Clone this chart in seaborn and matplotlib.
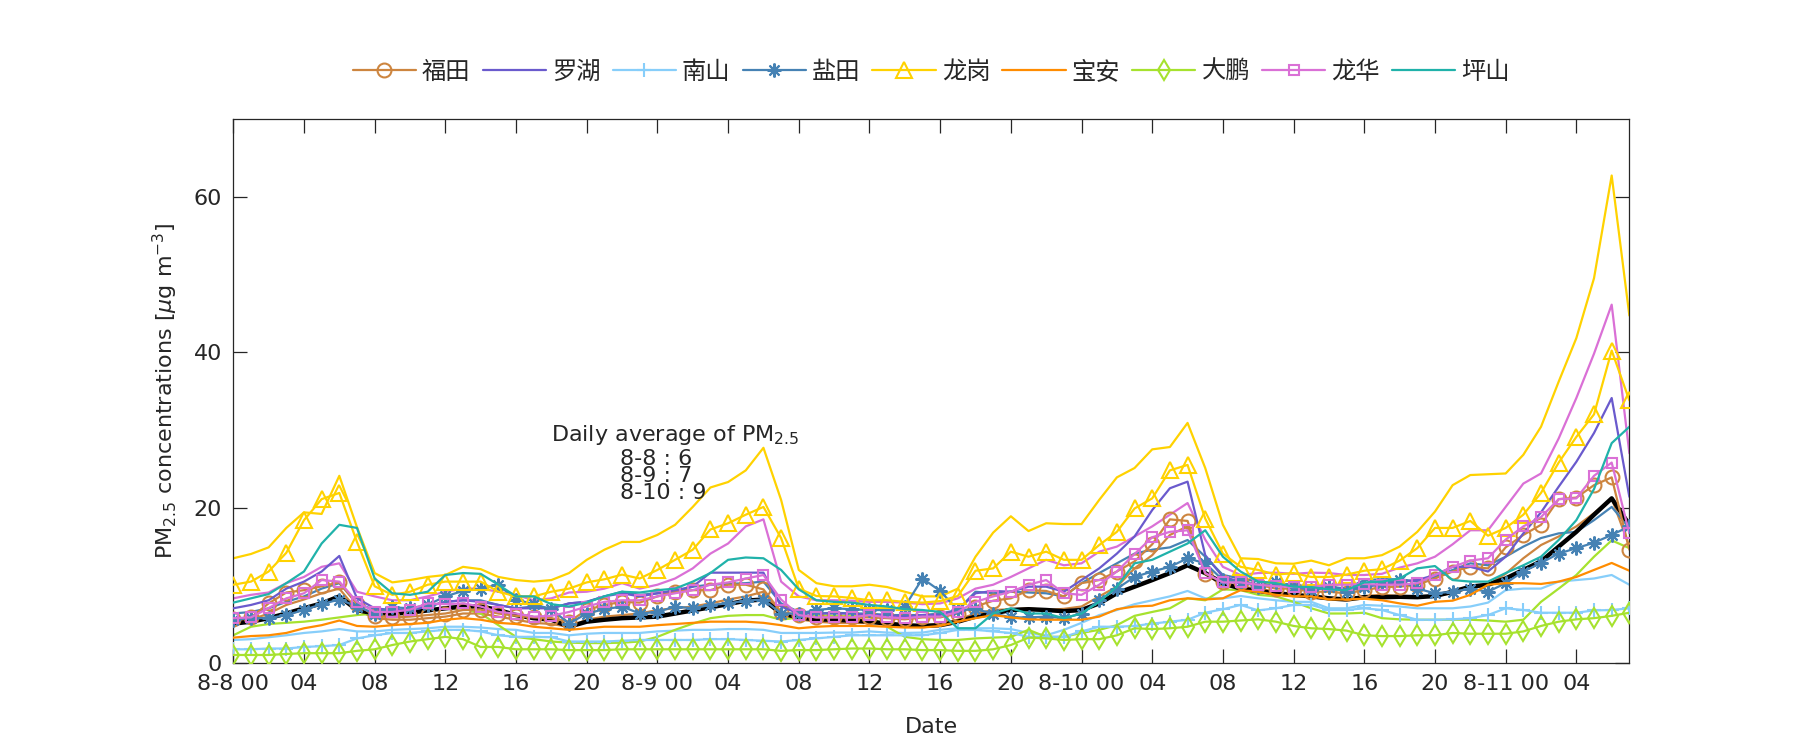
"""PM2.5 hourly concentrations, Shenzhen districts, 8-8 to 8-11."""

import matplotlib

matplotlib.use("Agg")
import matplotlib.pyplot as plt
import numpy as np
import seaborn as sns

# hourly index 8-8 00 ... 8-11 07
hours = np.arange(80)
tick_hours = np.arange(0, 80, 4)
tick_labels = ["8-8 00", "04", "08", "12", "16", "20",
               "8-9 00", "04", "08", "12", "16", "20",
               "8-10 00", "04", "08", "12", "16", "20",
               "8-11 00", "04"]

station_names = ["福田", "罗湖", "南山", "盐田", "龙岗", "宝安", "大鹏", "龙华", "坪山"]

futian = [5.65, 5.9, 7.7, 9.1, 9.4, 9.9, 10.4, 7.6, 6.1, 5.9, 6.0, 6.2, 6.4, 6.85, 6.9, 6.4, 6.1,
          5.9, 5.8, 5.35, 6.85, 7.5, 7.9, 7.8, 8.6, 9.2, 9.4, 9.4, 10.1, 10.1, 9.5, 6.6,
          6.2, 5.9, 5.9, 5.9, 5.9, 5.8, 5.65, 5.9, 5.9, 6.4, 7.3, 8.05, 8.35, 9.4, 9.3, 8.6,
          10.3, 10.7, 11.8, 13.1, 15.3, 18.5, 18.3, 11.5, 10.4, 10.4, 10.1, 9.6, 9.6, 9.2, 9.2, 9.0,
          9.4, 9.8, 9.85, 10.1, 10.9, 11.8, 12.4, 12.2, 14.9, 16.5, 17.8, 21.1, 21.3, 22.9, 23.9, 14.6]
luohu = [7.07, 7.5, 8.1, 9.6, 10.5, 11.8, 13.8, 8.35, 7.07, 6.85, 6.8, 7.3, 7.9, 8.1, 7.9, 7.5, 7.07,
         7.07, 7.07, 7.7, 7.9, 8.6, 9.0, 8.6, 9.0, 9.4, 9.85, 11.65, 11.65, 11.65, 11.65, 7.3,
         6.4, 6.4, 6.4, 6.4, 6.2, 6.2, 6.0, 6.2, 6.2, 6.85, 9.0, 9.3, 9.2, 9.85, 9.85, 9.2,
         10.7, 12.2, 14.1, 16.3, 19.7, 22.5, 23.35, 13.9, 11.1, 10.5, 10.1, 10.1, 9.85, 9.6, 9.6, 9.5,
         9.85, 10.1, 10.5, 10.7, 11.35, 12.4, 12.4, 11.8, 13.7, 16.7, 19.4, 22.7, 25.9, 29.6, 34.1, 21.4]
nanshan = [1.8, 1.8, 1.9, 1.9, 2.1, 2.2, 2.35, 3.2, 3.6, 3.9, 3.9, 4.1, 4.3, 4.3, 4.1, 3.6, 3.4,
           3.4, 3.35, 2.8, 2.8, 2.8, 2.9, 3.0, 3.0, 3.0, 3.0, 3.1, 3.1, 3.0, 2.9, 2.8,
           3.0, 3.2, 3.4, 3.6, 3.6, 3.6, 3.6, 3.6, 3.9, 4.3, 4.3, 4.1, 3.9, 3.4, 3.4, 3.4,
           4.1, 4.7, 4.7, 4.8, 5.1, 5.35, 5.6, 6.5, 6.95, 7.5, 6.8, 7.07, 7.5, 7.5, 6.85, 6.85,
           7.07, 6.85, 6.2, 5.6, 5.6, 5.65, 5.8, 6.2, 7.07, 6.85, 6.5, 6.5, 6.5, 6.8, 6.85, 7.07]
yantian = [5.6, 5.8, 5.8, 6.2, 6.85, 7.6, 8.2, 7.3, 6.4, 7.2, 7.07, 7.5, 8.6, 9.3, 9.6, 10.1, 8.2,
           7.6, 6.95, 5.1, 6.4, 6.95, 7.3, 6.4, 6.6, 7.3, 7.07, 7.5, 7.7, 8.05, 8.2, 6.4,
           6.4, 6.85, 7.07, 6.95, 6.85, 6.85, 7.3, 10.9, 9.3, 6.85, 6.95, 6.4, 5.9, 5.9, 6.0, 5.8,
           6.4, 8.1, 9.6, 11.1, 11.8, 12.4, 13.5, 12.85, 10.7, 10.5, 9.85, 10.4, 9.85, 9.4, 9.8, 9.2,
           9.85, 10.3, 10.7, 9.6, 9.0, 9.2, 9.6, 9.2, 10.3, 11.8, 12.9, 14.1, 14.8, 15.5, 16.5, 17.6]
longgang = [10.1, 10.5, 11.8, 14.2, 18.4, 21.1, 21.9, 15.6, 9.9, 8.8, 9.2, 10.1, 10.5, 10.5, 10.5, 9.2, 8.6,
            8.6, 9.2, 9.6, 10.4, 10.8, 11.4, 10.9, 12.0, 13.3, 14.6, 17.2, 18.0, 19.1, 20.1, 16.1,
            9.6, 8.65, 8.6, 8.4, 8.1, 8.1, 7.9, 7.8, 8.0, 8.65, 11.9, 12.2, 14.35, 13.7, 14.35, 13.3,
            13.3, 15.2, 16.9, 19.9, 21.2, 24.8, 25.5, 18.6, 14.1, 12.4, 12.0, 11.4, 11.6, 11.1, 11.1, 11.4,
            11.9, 12.1, 13.2, 14.8, 17.4, 17.4, 18.3, 16.4, 17.4, 19.1, 21.9, 25.8, 29.1, 32.0, 40.2, 33.8]
baoan = [3.3, 3.5, 3.6, 3.9, 4.5, 4.9, 5.5, 4.8, 4.7, 4.9, 5.05, 5.2, 5.6, 5.8, 5.6, 5.2, 5.05,
         4.7, 4.5, 4.3, 4.5, 4.7, 4.7, 4.7, 4.9, 5.05, 5.2, 5.35, 5.35, 5.35, 5.2, 4.9,
         4.5, 4.7, 4.8, 4.8, 4.8, 4.7, 4.6, 4.6, 4.8, 5.35, 5.8, 6.2, 5.9, 5.65, 5.6, 5.6,
         5.6, 6.0, 6.95, 7.3, 7.4, 8.1, 8.35, 8.2, 8.35, 9.4, 9.2, 8.8, 8.6, 8.6, 8.2, 8.2,
         8.3, 8.1, 7.7, 7.4, 7.9, 8.05, 8.8, 10.1, 10.3, 10.3, 10.2, 10.5, 11.1, 12.0, 12.9, 11.9]
dapeng = [1.07, 1.07, 1.07, 1.2, 1.3, 1.3, 1.3, 1.6, 1.8, 2.35, 2.8, 3.1, 3.4, 3.1, 2.1, 2.1, 1.8,
          1.8, 1.8, 1.7, 1.7, 1.7, 1.8, 1.8, 1.8, 1.8, 1.8, 1.8, 1.8, 1.8, 1.8, 1.6,
          1.7, 1.7, 1.8, 1.9, 1.9, 1.8, 1.8, 1.7, 1.7, 1.6, 1.6, 1.8, 2.35, 3.3, 3.2, 3.0,
          3.1, 3.1, 3.6, 4.5, 4.4, 4.5, 4.7, 5.35, 5.35, 5.5, 5.65, 5.35, 4.8, 4.5, 4.4, 4.2,
          3.6, 3.5, 3.5, 3.6, 3.6, 3.9, 3.8, 3.8, 3.8, 4.1, 4.8, 5.35, 5.65, 5.8, 6.1, 6.5]
longhua = [5.8, 5.9, 7.1, 8.35, 9.0, 10.7, 10.5, 7.9, 6.6, 6.6, 6.9, 7.7, 7.6, 7.7, 7.3, 6.6, 6.4,
           6.0, 6.1, 6.6, 7.3, 7.9, 8.1, 8.1, 8.6, 9.0, 9.4, 10.1, 10.4, 10.9, 11.35, 8.2,
           6.2, 5.9, 5.9, 5.9, 6.2, 5.9, 5.8, 6.0, 6.0, 6.6, 7.9, 8.6, 9.2, 10.1, 10.7, 9.0,
           8.8, 10.1, 11.8, 14.05, 16.2, 16.9, 17.1, 11.6, 10.4, 10.4, 10.1, 9.9, 9.8, 9.8, 10.1, 10.1,
           10.2, 10.1, 10.1, 10.3, 11.35, 12.4, 13.2, 13.5, 15.9, 17.6, 18.8, 21.1, 21.2, 24.1, 25.8, 16.7]
pingshan = [7.8, 8.35, 8.9, 10.3, 11.8, 15.4, 17.8, 17.4, 10.9, 9.0, 8.8, 9.2, 11.35, 11.6, 11.5, 10.1, 8.6,
            8.6, 7.6, 7.3, 7.8, 8.6, 9.2, 9.1, 9.4, 9.6, 10.5, 11.6, 13.3, 13.6, 13.5, 12.0,
            9.5, 8.1, 7.9, 7.8, 7.5, 7.3, 6.95, 6.85, 6.6, 4.5, 4.5, 6.4, 7.07, 6.4, 6.4, 5.8,
            6.4, 7.9, 9.85, 12.85, 13.3, 14.35, 15.4, 17.1, 13.7, 11.8, 10.5, 10.3, 9.85, 9.8, 9.5, 9.4,
            10.4, 10.5, 10.9, 12.2, 12.5, 10.7, 10.5, 10.5, 11.6, 12.6, 13.7, 15.85, 18.4, 22.4, 28.3, 30.4]

# second, unmarked line drawn in the colour of six of the stations
futian_b = [5.35, 5.6, 6.4, 7.5, 8.2, 9.0, 9.6, 6.85, 5.8, 5.6, 5.6, 5.8, 6.0, 6.4, 6.4, 6.0, 5.6,
            5.2, 5.05, 4.7, 5.6, 6.0, 6.2, 6.4, 6.85, 7.07, 7.3, 7.7, 8.2, 8.6, 9.2, 6.4,
            5.65, 5.35, 5.2, 5.2, 5.2, 5.1, 4.9, 4.9, 5.05, 5.6, 6.4, 6.85, 6.95, 7.07, 6.85, 7.0,
            7.3, 8.6, 9.85, 12.2, 13.9, 16.5, 17.6, 11.6, 9.9, 9.85, 9.6, 9.2, 8.8, 8.6, 8.35, 8.2,
            8.65, 8.8, 8.65, 8.55, 8.65, 9.0, 9.85, 10.1, 11.5, 13.5, 15.2, 16.3, 17.6, 19.3, 21.2, 15.0]
nanshan_b = [3.0, 3.1, 3.35, 3.6, 3.9, 4.1, 4.4, 4.1, 4.1, 4.3, 4.4, 4.5, 4.7, 4.7, 4.6, 4.4, 4.3,
             3.9, 3.9, 3.6, 3.8, 3.9, 3.9, 3.9, 4.1, 4.2, 4.3, 4.3, 4.4, 4.4, 4.3, 3.9,
             3.9, 3.9, 3.95, 3.95, 4.1, 3.95, 3.9, 3.95, 4.3, 4.5, 4.5, 4.5, 4.4, 3.9, 3.6, 4.3,
             5.2, 6.2, 6.85, 7.6, 8.1, 8.6, 9.3, 8.35, 8.35, 8.65, 8.35, 8.1, 7.9, 7.9, 7.07, 7.07,
             7.5, 7.4, 7.3, 7.07, 7.07, 7.07, 7.3, 7.8, 9.4, 9.6, 9.6, 10.5, 10.7, 10.9, 11.35, 10.1]
yantian_b = [6.4, 6.6, 7.07, 7.9, 8.6, 9.6, 10.3, 7.7, 6.85, 6.8, 6.85, 7.3, 7.9, 8.1, 8.1, 7.5, 7.07,
             7.3, 7.07, 7.7, 7.9, 8.6, 9.2, 8.8, 9.0, 9.2, 9.85, 10.1, 10.2, 10.3, 10.5, 7.7,
             6.6, 6.4, 6.5, 6.4, 6.4, 6.2, 6.2, 6.2, 6.4, 6.85, 9.2, 9.0, 9.2, 9.1, 9.0, 8.6,
             10.3, 11.6, 12.85, 14.1, 14.6, 14.9, 15.85, 13.7, 11.35, 10.9, 10.5, 10.3, 10.1, 9.85, 9.85, 9.6,
             10.7, 10.8, 10.8, 10.5, 11.1, 12.0, 12.85, 12.6, 13.7, 15.0, 16.1, 16.7, 16.9, 18.4, 20.1, 17.4]
longgang_b = [13.5, 14.05, 14.9, 17.4, 19.4, 19.2, 24.1, 17.5, 11.6, 10.4, 10.7, 11.1, 11.35, 12.4, 12.1, 11.1, 10.7,
              10.5, 10.7, 11.6, 13.3, 14.6, 15.6, 15.6, 16.5, 17.8, 20.1, 22.6, 23.3, 24.8, 27.7, 21.0,
              12.0, 10.3, 9.9, 9.9, 10.1, 9.8, 9.2, 8.6, 8.6, 9.6, 13.7, 16.8, 18.9, 17.0, 18.0, 17.9,
              17.9, 21.0, 23.9, 25.1, 27.5, 27.8, 30.9, 25.1, 17.8, 13.5, 13.4, 12.85, 12.8, 13.2, 12.6, 13.5,
              13.5, 13.9, 15.0, 16.9, 19.5, 22.9, 24.2, 24.3, 24.4, 26.8, 30.4, 36.2, 41.8, 49.5, 62.7, 44.7]
dapeng_b = [3.6, 4.7, 5.05, 5.2, 5.35, 5.6, 5.9, 6.2, 6.4, 6.4, 6.4, 6.85, 7.07, 7.07, 6.4, 4.9, 3.4,
            3.1, 2.8, 2.65, 2.6, 2.6, 2.65, 2.8, 3.4, 4.3, 5.1, 5.8, 6.1, 6.2, 6.2, 5.6,
            5.9, 6.2, 6.1, 6.1, 6.0, 4.7, 3.4, 3.1, 3.0, 3.0, 3.2, 3.3, 3.4, 4.3, 3.4, 3.4,
            3.9, 4.3, 4.9, 6.1, 6.6, 7.07, 8.35, 8.1, 9.5, 9.4, 8.8, 8.6, 7.9, 7.07, 6.4, 6.4,
            6.5, 5.8, 5.65, 5.6, 5.6, 5.6, 5.6, 5.5, 5.35, 5.6, 7.9, 9.6, 11.35, 13.7, 15.8, 14.8]
longhua_b = [8.35, 8.8, 9.1, 10.3, 11.1, 12.4, 12.85, 9.2, 8.6, 8.1, 8.1, 8.6, 9.2, 9.6, 9.6, 9.2, 8.8,
             8.1, 8.35, 9.1, 9.2, 9.6, 10.3, 9.6, 10.1, 10.9, 12.2, 14.1, 15.4, 17.6, 18.5, 10.5,
             8.6, 8.1, 8.1, 8.05, 7.9, 7.9, 7.8, 7.6, 7.7, 8.35, 9.6, 10.1, 11.1, 12.2, 13.3, 12.6,
             12.85, 14.35, 15.0, 16.3, 17.6, 19.1, 20.6, 15.9, 12.4, 11.35, 11.6, 11.65, 11.5, 11.65, 11.6, 11.35,
             11.35, 11.5, 12.3, 12.85, 13.7, 15.3, 17.1, 17.1, 20.1, 23.1, 24.4, 28.9, 34.1, 39.8, 46.1, 27.0]

# all-station mean (thick black)
mean_all = [5.1, 5.35, 5.8, 6.4, 7.07, 7.7, 8.6, 6.85, 6.4, 6.4, 6.5, 6.8, 7.07, 7.3, 7.3, 6.85, 6.2,
            5.8, 5.6, 4.7, 5.35, 5.6, 5.8, 5.9, 6.0, 6.4, 6.8, 7.2, 7.6, 8.05, 8.2, 6.4,
            5.9, 5.65, 5.6, 5.5, 5.35, 5.1, 4.9, 4.8, 4.9, 5.35, 6.0, 6.4, 6.85, 6.95, 6.85, 6.7,
            6.85, 7.7, 9.0, 9.85, 10.7, 11.6, 12.6, 11.6, 10.3, 9.6, 9.3, 9.0, 8.8, 8.6, 8.35, 8.2,
            8.5, 8.5, 8.55, 8.5, 8.65, 9.2, 9.85, 10.1, 10.9, 12.0, 13.1, 15.0, 16.9, 19.1, 21.2, 17.8]

avg_days = ["8-8", "8-9", "8-10"]
avg_values = [6, 7, 9]

stations = [futian, luohu, nanshan, yantian, longgang, baoan, dapeng, longhua, pingshan]
companions = [futian_b, nanshan_b, yantian_b, longgang_b, dapeng_b, longhua_b]

colors = ["#CD853F", "#6A5ACD", "#87CEFA", "#4682B4", "#FFD200",
          "#FF8C00", "#A6E22E", "#DA70D6", "#20B2AA"]
markers = ["o", None, "+", (8, 2, 0), "^", None, "d", "s", None]
msizes = [10, 0, 10, 10, 11, 0, 10, 7, 0]
companion_idx = [0, 2, 3, 4, 6, 7]

sns.set_theme(style="ticks")
plt.rcParams["font.family"] = ["DejaVu Sans", "Noto Sans CJK SC"]
plt.rcParams["mathtext.fontset"] = "dejavusans"

fig = plt.figure(figsize=(18, 7.5), dpi=100)
ax = fig.add_axes([0.1296, 0.1156, 0.7756, 0.7261])

for idx, vals in zip(companion_idx, companions):
    sns.lineplot(x=hours, y=vals, ax=ax, color=colors[idx], linewidth=1.6, zorder=2)

sns.lineplot(x=hours, y=mean_all, ax=ax, color="black", linewidth=3.2, zorder=3)

handles = []
for name, vals, col, mk, ms in zip(station_names, stations, colors, markers, msizes):
    kw = dict(color=col, linewidth=1.6, zorder=4)
    if mk is not None:
        kw.update(marker=mk, markersize=ms, markerfacecolor="none",
                  markeredgecolor=col, markeredgewidth=1.5)
    sns.lineplot(x=hours, y=vals, ax=ax, **kw)
    handles.append(ax.lines[-1])

ax.legend(handles, station_names, loc="center", bbox_to_anchor=(0.5, 1.086),
          ncol=9, frameon=False, handlelength=2.6,
          handletextpad=0.25, columnspacing=0.5,
          prop={"family": ["Noto Sans CJK SC"], "size": 17.5})

ax.set_xlim(0, 79)
ax.set_ylim(0, 70)
ax.set_xticks(tick_hours)
ax.set_xticklabels(tick_labels)
ax.set_yticks([0, 20, 40, 60])

dark = "#262626"
for sp in ax.spines.values():
    sp.set_visible(True)
    sp.set_color(dark)
    sp.set_linewidth(0.9)
ax.tick_params(direction="in", top=True, right=True, length=10, width=0.9,
               colors=dark, labelsize=16, pad=8)

ax.set_xlabel("Date", fontsize=16, color=dark, labelpad=16)
ax.set_ylabel(r"PM$_{2.5}$ concentrations [$\mu$g m$^{-3}$]", fontsize=16,
              color=dark, labelpad=10)

# daily averages: title line plus one tightly spaced block
ax.text(18.0, 29.3, r"Daily average of PM$_{2.5}$", fontsize=16, va="center", ha="left")
avg_block = "\n".join(f"{d} : {v}" for d, v in zip(avg_days, avg_values))
ax.text(21.9, 27.6, avg_block, fontsize=16, va="top", ha="left", linespacing=0.82)

fig.savefig("out.png", dpi=100)
plt.close(fig)
